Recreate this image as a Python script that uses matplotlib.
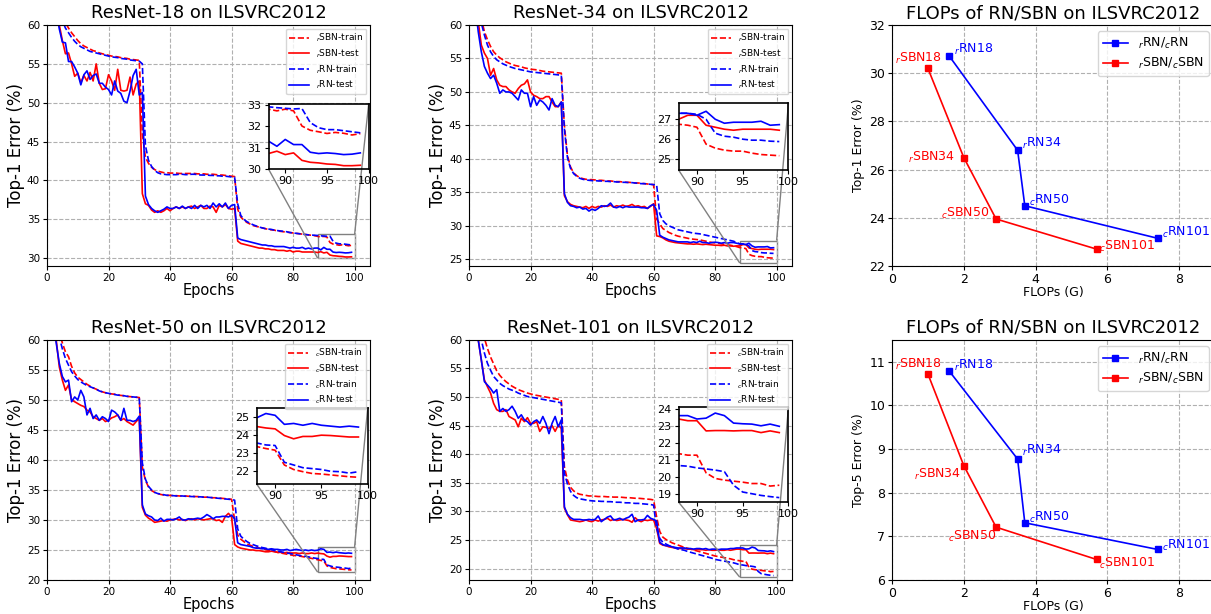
import matplotlib
matplotlib.use("Agg")
import matplotlib.pyplot as plt
from matplotlib.ticker import MultipleLocator
from mpl_toolkits.axes_grid1.inset_locator import mark_inset

epochs = list(range(1, 100))

# ResNet-18 (prefix r)
r18_sbn_train = [70.0, 67.0, 64.5, 62.5, 61.2, 60.3, 59.6, 59.0, 58.5, 58.0,
                 57.6, 57.3, 57.1, 56.9, 56.7, 56.6, 56.4, 56.3, 56.2, 56.1,
                 56.0, 55.95, 55.9, 55.8, 55.75, 55.7, 55.6, 55.55, 55.5, 55.45,
                 46.0, 43.0, 42.2, 41.7, 41.4, 41.2, 41.1, 41.0, 41.0, 40.95,
                 40.95, 40.95, 40.9, 40.9, 40.9, 40.9, 40.9, 40.9, 40.85, 40.85,
                 40.85, 40.8, 40.8, 40.8, 40.75, 40.7, 40.7, 40.65, 40.6, 40.55,
                 40.5, 36.3, 35.3, 34.9, 34.6, 34.4, 34.2, 34.1, 34.0, 33.9,
                 33.8, 33.7, 33.65, 33.6, 33.5, 33.45, 33.4, 33.35, 33.3, 33.25,
                 33.2, 33.15, 33.1, 33.05, 33.0, 32.95, 32.9, 32.81, 32.73, 32.81,
                 32.73, 32.02, 31.82, 31.75, 31.67, 31.72, 31.68, 31.6, 31.66]
r18_sbn_test = [72.0, 67.0, 62.5, 60.0, 58.0, 56.3, 56.4, 55.0, 53.4, 53.8,
                52.6, 53.5, 52.8, 53.9, 52.8, 55.0, 52.5, 51.7, 51.8, 53.6,
                52.8, 51.6, 54.3, 51.6, 51.5, 51.6, 53.3, 51.0, 52.4, 52.8,
                38.3, 37.0, 36.8, 36.2, 35.9, 36.1, 35.9, 36.1, 36.4, 36.1,
                36.4, 36.6, 36.4, 36.6, 36.4, 36.6, 36.7, 36.4, 36.6, 36.8,
                36.4, 36.4, 36.7, 36.6, 35.9, 36.8, 36.6, 36.9, 36.4, 36.3,
                36.4, 32.2, 31.9, 31.8, 31.7, 31.6, 31.5, 31.4, 31.3, 31.3,
                31.2, 31.2, 31.1, 31.1, 31.0, 31.0, 31.0, 30.9, 31.0, 30.8,
                30.9, 30.9, 30.8, 30.8, 30.8, 30.8, 30.8, 30.73, 30.84, 30.68,
                30.76, 30.41, 30.32, 30.29, 30.24, 30.22, 30.16, 30.16, 30.18]
r18_rn_train = [69.0, 66.0, 63.5, 61.8, 60.6, 59.6, 59.0, 58.4, 57.9, 57.5,
                57.2, 57.0, 56.8, 56.6, 56.5, 56.4, 56.3, 56.2, 56.1, 56.0,
                55.9, 55.85, 55.8, 55.7, 55.65, 55.6, 55.5, 55.45, 55.4, 55.35,
                55.0, 44.5, 42.6, 41.8, 41.3, 41.0, 40.85, 40.8, 40.75, 40.75,
                40.75, 40.75, 40.8, 40.8, 40.75, 40.75, 40.8, 40.8, 40.75, 40.7,
                40.7, 40.7, 40.65, 40.65, 40.6, 40.6, 40.55, 40.55, 40.5, 40.45,
                40.4, 37.0, 35.5, 35.0, 34.7, 34.5, 34.3, 34.15, 34.0, 33.9,
                33.8, 33.75, 33.7, 33.6, 33.55, 33.5, 33.45, 33.4, 33.3, 33.25,
                33.2, 33.15, 33.1, 33.05, 33.0, 32.98, 32.95, 32.92, 32.88, 32.85,
                32.82, 32.84, 32.18, 31.94, 31.85, 31.85, 31.8, 31.75, 31.7]
r18_rn_test = [71.0, 66.0, 62.0, 59.5, 57.8, 57.7, 55.3, 55.3, 54.6, 53.8,
               52.3, 53.6, 54.1, 53.0, 53.5, 53.7, 52.5, 52.5, 52.0, 51.7,
               51.0, 52.8, 51.5, 51.2, 50.2, 50.0, 51.5, 53.5, 54.3, 51.0,
               51.3, 38.0, 36.9, 36.4, 36.1, 35.9, 36.1, 36.3, 36.6, 36.4,
               36.4, 36.6, 36.4, 36.7, 36.4, 36.6, 36.4, 36.8, 36.4, 36.8,
               36.6, 36.8, 36.4, 37.1, 36.6, 37.0, 36.6, 37.1, 36.4, 36.8,
               36.9, 32.6, 32.4, 32.3, 32.2, 32.1, 32.0, 31.9, 31.8, 31.7,
               31.7, 31.6, 31.6, 31.5, 31.5, 31.5, 31.5, 31.4, 31.3, 31.4,
               31.3, 31.3, 31.4, 31.2, 31.3, 31.2, 31.3, 31.31, 31.07, 31.39,
               31.15, 31.15, 30.79, 30.73, 30.76, 30.73, 30.68, 30.7, 30.76]

# ResNet-34 (prefix r)
r34_sbn_train = [72.0, 67.5, 63.5, 61.0, 59.0, 57.8, 56.8, 56.0, 55.5, 55.1,
                 54.8, 54.5, 54.3, 54.1, 53.95, 53.85, 53.75, 53.6, 53.5, 53.4,
                 53.35, 53.3, 53.2, 53.1, 53.05, 53.0, 52.95, 52.9, 52.85, 52.8,
                 45.0, 40.5, 38.8, 37.9, 37.5, 37.2, 37.05, 36.95, 36.9, 36.9,
                 36.85, 36.8, 36.8, 36.75, 36.7, 36.7, 36.65, 36.6, 36.6, 36.55,
                 36.5, 36.5, 36.45, 36.4, 36.4, 36.35, 36.3, 36.25, 36.2, 36.15,
                 31.0, 30.3, 29.6, 29.3, 29.0, 28.8, 28.6, 28.45, 28.35, 28.25,
                 28.15, 28.05, 28.0, 27.95, 27.9, 27.8, 27.7, 27.6, 27.5, 27.45,
                 27.4, 27.3, 27.25, 27.15, 27.1, 27.0, 26.9, 26.75, 26.7, 26.6,
                 25.75, 25.55, 25.45, 25.4, 25.4, 25.3, 25.23, 25.2, 25.17]
r34_sbn_test = [70.0, 64.5, 60.5, 57.0, 55.8, 55.0, 52.5, 53.5, 51.8, 51.0,
                50.8, 50.8, 50.3, 50.0, 49.8, 50.5, 51.0, 51.2, 51.8, 50.0,
                49.5, 49.3, 49.0, 49.0, 49.3, 49.3, 48.5, 47.8, 47.8, 48.5,
                34.5, 33.6, 33.2, 33.0, 32.9, 32.8, 32.7, 32.9, 32.6, 32.9,
                32.7, 32.9, 32.8, 33.0, 32.9, 33.1, 32.8, 33.0, 32.9, 33.1,
                32.9, 33.0, 33.2, 32.9, 33.0, 32.8, 32.9, 32.6, 32.9, 33.3,
                28.5, 28.4, 28.2, 27.9, 27.7, 27.6, 27.5, 27.45, 27.4, 27.35,
                27.3, 27.3, 27.25, 27.3, 27.25, 27.2, 27.25, 27.2, 27.15, 27.1,
                27.1, 27.05, 27.1, 27.0, 27.0, 26.95, 27.0, 27.0, 27.2, 27.2,
                26.7, 26.6, 26.5, 26.45, 26.5, 26.5, 26.5, 26.5, 26.45]
r34_rn_train = [71.0, 66.5, 62.5, 60.3, 58.5, 57.0, 56.0, 55.3, 54.8, 54.5,
                54.2, 54.0, 53.8, 53.65, 53.5, 53.4, 53.3, 53.2, 53.1, 53.0,
                52.95, 52.9, 52.85, 52.8, 52.75, 52.7, 52.65, 52.6, 52.55, 52.5,
                44.5, 40.2, 38.6, 37.8, 37.4, 37.1, 36.95, 36.85, 36.8, 36.75,
                36.75, 36.7, 36.7, 36.65, 36.65, 36.6, 36.6, 36.55, 36.55, 36.5,
                36.5, 36.45, 36.45, 36.4, 36.35, 36.3, 36.3, 36.25, 36.2, 36.15,
                36.1, 31.8, 30.8, 30.3, 30.0, 29.8, 29.6, 29.4, 29.3, 29.2,
                29.1, 29.0, 28.9, 28.85, 28.8, 28.7, 28.6, 28.5, 28.4, 28.3,
                28.2, 28.1, 28.0, 27.9, 27.8, 27.7, 27.5, 27.3, 27.3, 27.25,
                27.0, 26.3, 26.15, 26.1, 26.0, 25.95, 25.95, 25.9, 25.88]
r34_rn_test = [69.0, 63.0, 59.0, 56.0, 53.8, 52.8, 52.0, 52.5, 51.3, 49.8,
               50.3, 50.0, 50.0, 49.8, 49.3, 48.8, 50.3, 49.8, 49.8, 47.8,
               49.3, 48.0, 48.8, 48.5, 48.0, 47.3, 49.0, 48.0, 47.8, 48.5,
               34.8, 33.5, 33.0, 32.9, 32.7, 32.8, 32.5, 32.6, 32.2, 32.5,
               32.3, 32.6, 33.0, 32.9, 33.0, 33.4, 32.8, 32.7, 32.9, 32.7,
               32.9, 32.8, 32.8, 32.8, 32.8, 32.7, 32.7, 32.6, 33.0, 33.2,
               32.3, 28.6, 28.3, 28.1, 27.9, 27.8, 27.7, 27.6, 27.6, 27.6,
               27.6, 27.5, 27.6, 27.5, 27.7, 27.5, 27.5, 27.4, 27.5, 27.55,
               27.5, 27.4, 27.5, 27.4, 27.5, 27.5, 27.4, 27.3, 27.3, 27.2,
               27.4, 27.0, 26.8, 26.85, 26.85, 26.85, 26.9, 26.7, 26.73]

# ResNet-50 (prefix c)
r50_sbn_train = [72.0, 67.0, 63.5, 61.2, 59.5, 58.0, 57.2, 55.6, 54.5, 53.8,
                 53.4, 53.0, 52.6, 52.3, 52.0, 51.8, 51.5, 51.35, 51.2, 51.1,
                 51.0, 50.95, 50.85, 50.75, 50.7, 50.6, 50.55, 50.5, 50.45, 50.4,
                 38.8, 36.6, 35.5, 34.9, 34.6, 34.4, 34.25, 34.15, 34.1, 34.1,
                 34.05, 34.05, 34.0, 34.0, 34.0, 33.95, 33.95, 33.9, 33.9, 33.85,
                 33.8, 33.8, 33.75, 33.7, 33.7, 33.65, 33.6, 33.55, 33.5, 33.45,
                 30.0, 27.5, 26.8, 26.4, 26.0, 25.8, 25.6, 25.45, 25.3, 25.2,
                 25.05, 24.95, 24.85, 24.75, 24.6, 24.5, 24.4, 24.3, 24.2, 24.1,
                 24.05, 24.0, 23.9, 23.8, 23.7, 23.6, 23.5, 23.37, 23.26, 23.17,
                 22.35, 22.1, 21.98, 21.88, 21.85, 21.8, 21.75, 21.7, 21.67]
r50_sbn_test = [70.0, 64.0, 60.0, 55.5, 53.3, 51.6, 52.5, 50.0, 49.7, 49.4,
                49.1, 48.9, 48.3, 48.0, 47.2, 46.9, 46.6, 46.9, 46.4, 46.6,
                47.0, 47.2, 47.5, 46.6, 46.9, 46.4, 46.1, 45.8, 46.4, 46.9,
                32.1, 30.8, 30.3, 30.0, 29.6, 29.7, 29.8, 29.9, 29.8, 30.0,
                30.1, 30.2, 30.0, 30.1, 29.9, 30.1, 30.2, 30.0, 30.2, 30.1,
                30.0, 30.1, 30.2, 30.2, 29.9, 30.0, 29.6, 30.6, 31.1, 30.5,
                25.9, 25.5, 25.3, 25.2, 25.1, 25.0, 25.0, 24.9, 24.9, 24.8,
                24.7, 24.7, 24.8, 24.7, 24.6, 24.6, 24.5, 24.6, 24.5, 24.5,
                24.5, 24.4, 24.5, 24.4, 24.4, 24.5, 24.4, 24.48, 24.4, 24.35,
                23.98, 23.8, 23.93, 23.93, 24.0, 23.98, 23.94, 23.9, 23.9]
r50_rn_train = [71.0, 66.0, 62.5, 60.5, 58.5, 56.9, 55.8, 54.7, 54.0, 53.4,
                53.0, 52.7, 52.4, 52.2, 52.0, 51.8, 51.5, 51.35, 51.2, 51.1,
                51.0, 50.9, 50.8, 50.75, 50.7, 50.6, 50.55, 50.5, 50.45, 50.4,
                39.5, 36.8, 35.6, 35.0, 34.6, 34.4, 34.3, 34.2, 34.1, 34.1,
                34.05, 34.0, 34.0, 34.0, 33.95, 33.95, 33.9, 33.9, 33.85, 33.85,
                33.8, 33.8, 33.75, 33.7, 33.65, 33.6, 33.55, 33.5, 33.45, 33.4,
                33.3, 28.5, 27.3, 26.8, 26.4, 26.1, 25.9, 25.7, 25.55, 25.4,
                25.3, 25.15, 25.05, 24.9, 24.8, 24.7, 24.6, 24.5, 24.4, 24.3,
                24.2, 24.1, 24.0, 23.95, 23.85, 23.75, 23.65, 23.57, 23.46, 23.43,
                22.5, 22.35, 22.2, 22.15, 22.1, 22.0, 21.98, 21.9, 21.98]
r50_rn_test = [69.0, 63.0, 59.5, 56.1, 53.9, 53.0, 53.3, 49.7, 50.5, 50.0,
               51.6, 50.5, 47.5, 48.6, 46.9, 47.5, 46.6, 47.2, 46.9, 46.4,
               48.3, 48.0, 47.5, 46.6, 48.6, 46.6, 46.6, 46.4, 46.6, 47.3,
               32.5, 31.0, 30.7, 30.5, 30.0, 29.9, 30.3, 29.8, 30.1, 30.1,
               30.0, 30.2, 30.5, 30.0, 30.0, 30.2, 30.1, 30.2, 30.3, 30.2,
               30.5, 30.9, 30.6, 30.2, 30.5, 30.5, 30.6, 30.6, 30.5, 30.8,
               30.2, 26.2, 25.9, 25.8, 25.7, 25.6, 25.4, 25.3, 25.3, 25.2,
               25.2, 25.1, 25.2, 25.1, 25.1, 25.0, 25.0, 25.1, 24.9, 25.0,
               25.1, 25.0, 24.9, 25.0, 24.9, 25.0, 24.9, 24.96, 25.2, 25.1,
               24.6, 24.65, 24.55, 24.65, 24.55, 24.5, 24.45, 24.5, 24.45]

# ResNet-101 (prefix c)
r101_sbn_train = [72.0, 67.0, 64.0, 62.0, 60.3, 58.5, 57.0, 55.8, 54.6, 53.8,
                  53.2, 52.7, 52.3, 51.9, 51.6, 51.3, 51.1, 50.9, 50.7, 50.55,
                  50.4, 50.3, 50.2, 50.1, 50.0, 49.9, 49.8, 49.7, 49.6, 49.5,
                  37.8, 35.5, 34.2, 33.6, 33.2, 33.0, 32.9, 32.8, 32.7, 32.7,
                  32.65, 32.6, 32.6, 32.6, 32.55, 32.55, 32.5, 32.5, 32.5, 32.45,
                  32.4, 32.4, 32.35, 32.3, 32.3, 32.25, 32.2, 32.15, 32.1, 32.0,
                  29.0, 26.5, 25.5, 25.1, 24.8, 24.5, 24.3, 24.1, 23.9, 23.7,
                  23.55, 23.4, 23.25, 23.1, 22.95, 22.8, 22.65, 22.5, 22.35, 22.2,
                  22.1, 22.0, 21.9, 21.8, 21.7, 21.55, 21.45, 21.36, 21.27, 21.27,
                  20.23, 19.9, 19.8, 19.74, 19.68, 19.6, 19.6, 19.45, 19.5]
r101_sbn_test = [70.0, 64.0, 60.0, 56.5, 53.0, 51.8, 50.7, 48.9, 47.8, 47.5,
                 47.5, 47.8, 46.6, 46.3, 46.0, 44.8, 46.3, 45.7, 46.4, 45.4,
                 45.4, 45.7, 44.0, 44.8, 44.7, 44.5, 45.0, 44.0, 45.1, 44.5,
                 30.6, 29.4, 28.5, 28.4, 28.3, 28.2, 28.3, 28.5, 28.3, 28.2,
                 28.5, 28.3, 28.5, 28.6, 28.8, 28.4, 28.6, 28.4, 28.5, 28.6,
                 28.5, 28.4, 28.1, 28.9, 28.4, 28.2, 28.5, 28.4, 28.5, 28.5,
                 27.0, 24.4, 24.1, 24.0, 23.8, 23.7, 23.6, 23.5, 23.5, 23.5,
                 23.4, 23.4, 23.3, 23.4, 23.3, 23.3, 23.2, 23.3, 23.2, 23.2,
                 23.3, 23.2, 23.2, 23.3, 23.2, 23.3, 23.4, 23.4, 23.3, 23.3,
                 22.7, 22.72, 22.72, 22.7, 22.72, 22.72, 22.6, 22.7, 22.6]
r101_rn_train = [70.0, 65.0, 62.0, 60.0, 57.7, 55.9, 54.7, 53.6, 53.0, 52.4,
                 52.0, 51.7, 51.4, 51.2, 51.0, 50.7, 50.5, 50.3, 50.1, 50.0,
                 49.9, 49.8, 49.7, 49.6, 49.5, 49.4, 49.3, 49.2, 49.1, 49.0,
                 36.7, 34.8, 33.5, 32.8, 32.4, 32.2, 32.1, 32.0, 31.9, 31.85,
                 31.8, 31.8, 31.75, 31.75, 31.7, 31.7, 31.65, 31.6, 31.6, 31.55,
                 31.5, 31.5, 31.45, 31.4, 31.4, 31.35, 31.3, 31.25, 31.2, 31.1,
                 27.0, 25.3, 24.6, 24.3, 24.0, 23.8, 23.6, 23.4, 23.3, 23.2,
                 23.0, 22.85, 22.7, 22.55, 22.4, 22.25, 22.1, 21.95, 21.8, 21.6,
                 21.5, 21.4, 21.3, 21.2, 21.1, 21.0, 20.85, 20.66, 20.62, 20.52,
                 20.46, 20.39, 20.3, 19.5, 19.1, 19.0, 18.9, 18.83, 18.77]
r101_rn_test = [69.0, 63.0, 60.0, 56.5, 52.7, 52.1, 51.5, 50.7, 51.3, 47.5,
                48.0, 47.5, 47.8, 48.4, 47.5, 46.3, 46.9, 46.0, 45.7, 45.1,
                45.7, 46.0, 45.4, 46.6, 45.4, 43.6, 45.4, 46.6, 44.8, 46.0,
                30.8, 29.5, 28.9, 28.6, 28.6, 28.6, 28.5, 28.5, 28.6, 28.5,
                28.6, 29.2, 28.2, 28.6, 29.0, 29.2, 28.5, 28.6, 28.8, 28.5,
                28.8, 29.0, 29.5, 28.2, 28.5, 28.5, 28.6, 29.3, 28.8, 28.6,
                28.3, 24.6, 24.2, 24.0, 24.0, 23.8, 23.7, 23.6, 23.6, 23.6,
                23.5, 23.5, 23.4, 23.5, 23.5, 23.4, 23.5, 23.3, 23.4, 23.4,
                23.3, 23.4, 23.4, 23.4, 23.5, 23.5, 23.6, 23.6, 23.6, 23.4,
                23.45, 23.75, 23.6, 23.16, 23.12, 23.1, 23.0, 23.1, 22.97]

# FLOPs vs error
flops_rn = [1.6, 3.5, 3.7, 7.4]
flops_sbn = [1.0, 2.0, 2.9, 5.7]
top1_rn = [30.7, 26.8, 24.5, 23.15]
top1_sbn = [30.2, 26.5, 23.95, 22.7]
top5_rn = [10.78, 8.77, 7.31, 6.70]
top5_sbn = [10.72, 8.62, 7.21, 6.47]
names_rn = ["$_r$RN18", "$_r$RN34", "$_c$RN50", "$_c$RN101"]
names_sbn = ["$_r$SBN18", "$_r$SBN34", "$_c$SBN50", "$_c$SBN101"]

GRID = dict(color="#b0b0b0", linestyle="--", linewidth=0.8)


def train_panel(rect, title, p, series, ylim, inset_rect, inset_ylim):
    ax = fig.add_axes(rect)
    sbn_tr, sbn_te, rn_tr, rn_te = series
    ax.plot(epochs, sbn_tr, "r--", lw=1.2, label=f"$_{p}$SBN-train")
    ax.plot(epochs, sbn_te, "r-", lw=1.2, label=f"$_{p}$SBN-test")
    ax.plot(epochs, rn_tr, "b--", lw=1.2, label=f"$_{p}$RN-train")
    ax.plot(epochs, rn_te, "b-", lw=1.2, label=f"$_{p}$RN-test")
    ax.set_xlim(0, 105)
    ax.set_ylim(*ylim)
    ax.set_xticks([0, 20, 40, 60, 80, 100])
    ax.yaxis.set_major_locator(MultipleLocator(5))
    ax.tick_params(labelsize=7.5, length=3, pad=2)
    ax.grid(True, **GRID)
    ax.set_title(title, fontsize=13, pad=5)
    ax.set_xlabel("Epochs", fontsize=10.5, labelpad=0)
    ax.set_ylabel("Top-1 Error (%)", fontsize=12, labelpad=1)
    ax.legend(loc="upper right", fontsize=6.5, handlelength=2.2,
              labelspacing=0.35, borderpad=0.35, borderaxespad=0.4)

    axin = ax.inset_axes(inset_rect)
    axin.plot(epochs, sbn_tr, "r--", lw=1.2)
    axin.plot(epochs, sbn_te, "r-", lw=1.2)
    axin.plot(epochs, rn_tr, "b--", lw=1.2)
    axin.plot(epochs, rn_te, "b-", lw=1.2)
    axin.set_xlim(88, 100)
    axin.set_ylim(*inset_ylim)
    axin.set_xticks([90, 95, 100])
    axin.yaxis.set_major_locator(MultipleLocator(1))
    axin.tick_params(labelsize=8, length=3, pad=2)
    for s in axin.spines.values():
        s.set_linewidth(1.2)
    mark_inset(ax, axin, loc1=3, loc2=1, fc="none", ec="0.5", lw=1)
    return ax


def flops_panel(rect, ylabel, y_rn, y_sbn, ylim, off_rn, off_sbn):
    ax = fig.add_axes(rect)
    ax.plot(flops_rn, y_rn, "b-s", lw=1.2, ms=5, label="$_r$RN/$_c$RN")
    ax.plot(flops_sbn, y_sbn, "r-s", lw=1.2, ms=5, label="$_r$SBN/$_c$SBN")
    for x, y, t, (dx, dy) in zip(flops_rn, y_rn, names_rn, off_rn):
        ax.annotate(t, (x, y), xytext=(dx, dy), textcoords="offset points",
                    color="b", fontsize=9, ha="left", va="center")
    for x, y, t, (dx, dy, ha) in zip(flops_sbn, y_sbn, names_sbn, off_sbn):
        ax.annotate(t, (x, y), xytext=(dx, dy), textcoords="offset points",
                    color="r", fontsize=9, ha=ha, va="center")
    ax.set_xlim(0, 9)
    ax.set_ylim(*ylim)
    ax.set_xticks([0, 2, 4, 6, 8])
    ax.tick_params(labelsize=9, length=3, pad=2)
    ax.grid(True, **GRID)
    ax.set_title("FLOPs of RN/SBN on ILSVRC2012", fontsize=13, pad=5)
    ax.set_xlabel("FLOPs (G)", fontsize=9, labelpad=0)
    ax.set_ylabel(ylabel, fontsize=9, labelpad=3)
    ax.legend(loc="upper right", fontsize=9, handlelength=2.0, labelspacing=0.4)
    return ax


fig = plt.figure(figsize=(12.11, 6.14), dpi=100)

train_panel([0.0388, 0.5668, 0.2667, 0.3925], "ResNet-18 on ILSVRC2012", "r",
            (r18_sbn_train, r18_sbn_test, r18_rn_train, r18_rn_test),
            (29, 60), [0.686, 0.402, 0.31, 0.27], (30, 33.05))
train_panel([0.3873, 0.5668, 0.2667, 0.3925], "ResNet-34 on ILSVRC2012", "r",
            (r34_sbn_train, r34_sbn_test, r34_rn_train, r34_rn_test),
            (24, 60), [0.649, 0.398, 0.34, 0.277], (24.45, 27.8))
train_panel([0.0388, 0.0554, 0.2667, 0.391], "ResNet-50 on ILSVRC2012", "c",
            (r50_sbn_train, r50_sbn_test, r50_rn_train, r50_rn_test),
            (20, 60), [0.649, 0.40, 0.344, 0.316], (21.3, 25.5))
train_panel([0.3873, 0.0554, 0.2667, 0.391], "ResNet-101 on ILSVRC2012", "c",
            (r101_sbn_train, r101_sbn_test, r101_rn_train, r101_rn_test),
            (18, 60), [0.649, 0.324, 0.34, 0.396], (18.5, 24.1))

flops_panel([0.7366, 0.5668, 0.2667, 0.3925], "Top-1 Error (%)", top1_rn, top1_sbn,
            (22, 32), [(3, 5), (3, 5), (3, 4), (3, 4)],
            [(10, 7, "right"), (-6, 0, "right"), (-5, 4, "right"), (2, 2, "left")])
flops_panel([0.7366, 0.0554, 0.2667, 0.391], "Top-5 Error (%)", top5_rn, top5_sbn,
            (6, 11.5), [(3, 4), (3, 6), (3, 4), (3, 3)],
            [(10, 7, "right"), (-2, -6, "right"), (0, -7, "right"), (2, -3, "left")])

fig.savefig("out.png", dpi=100)
